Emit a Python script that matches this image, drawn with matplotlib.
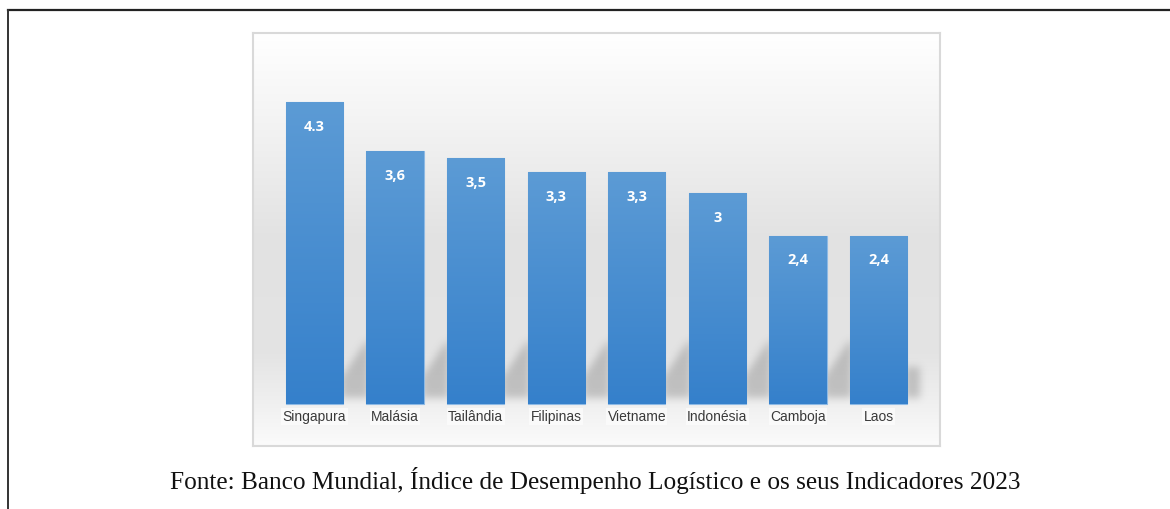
import numpy as np
import matplotlib.pyplot as plt
from matplotlib.colors import LinearSegmentedColormap
from matplotlib.lines import Line2D

countries = ["Singapura", "Malásia", "Tailândia", "Filipinas",
             "Vietname", "Indonésia", "Camboja", "Laos"]
scores = [4.3, 3.6, 3.5, 3.3, 3.3, 3.0, 2.4, 2.4]
score_labels = ["4.3", "3,6", "3,5", "3,3", "3,3", "3", "2,4", "2,4"]
caption = "Fonte: Banco Mundial, Índice de Desempenho Logístico e os seus Indicadores 2023"

W, H = 1170, 509
fig = plt.figure(figsize=(W / 100, H / 100), dpi=100)

# ── Page frame (top and left rules) ────────────────────
fig.add_artist(Line2D([8 / W, 1], [1 - 10 / H, 1 - 10 / H], color="#222222", lw=1.6))
fig.add_artist(Line2D([8 / W, 8 / W], [0, 1 - 10 / H], color="#333333", lw=1.4))

# ── Chart panel ────────────────────────────────────────
left, right, top, bottom = 253, 940, 33, 446
XLIM = (-0.763, 7.763)
YLIM = (-0.598, 5.285)
ax = fig.add_axes([left / W, 1 - bottom / H, (right - left) / W, (bottom - top) / H])
ax.set_xlim(*XLIM)
ax.set_ylim(*YLIM)
ax.set_xticks([])
ax.set_yticks([])
for s in ax.spines.values():
    s.set_color("#d9d9d9")
    s.set_linewidth(1.5)
extent = [XLIM[0], XLIM[1], YLIM[0], YLIM[1]]

# vertical background gradient
bg_cmap = LinearSegmentedColormap.from_list(
    "bg", [(0.0, "#fbfbfb"), (0.10, "#f0f0f0"), (0.22, "#e4e4e4"),
           (0.50, "#e2e2e2"), (0.80, "#f4f4f4"), (1.0, "#ffffff")])
grad = np.linspace(0, 1, 256).reshape(-1, 1)
ax.imshow(grad, cmap=bg_cmap, aspect="auto", origin="lower", extent=extent, zorder=0)

# soft floor shadow: a band behind the bars, cut diagonally in each gap
width = 0.71
ncol, nrow = right - left, bottom - top
xs = np.linspace(XLIM[0], XLIM[1], ncol)
ys = np.linspace(YLIM[0], YLIM[1], nrow)
px = (XLIM[1] - XLIM[0]) / ncol
top_edge = np.zeros(ncol)
for i in range(len(scores) - 1):
    xa, xb = i + width / 2, i + 1 - width / 2
    m = (xs >= xa - 2 * px) & (xs <= xb + 2 * px)
    t = np.clip((xs[m] - xa) / (xb - xa), 0, 1)
    top_edge[m] = 0.42 + t * 0.48
last = len(scores) - 1 + width / 2
m = (xs >= last - 2 * px) & (xs <= last + 13 * px)
top_edge[m] = 0.52
mask = ((ys[:, None] > 0.08) & (ys[:, None] < top_edge[None, :])).astype(float)

def blur(a, sigma):
    k = np.arange(-3 * sigma, 3 * sigma + 1)
    g = np.exp(-k ** 2 / (2 * sigma ** 2))
    g /= g.sum()
    a = np.apply_along_axis(lambda r: np.convolve(r, g, mode="same"), 1, a)
    return np.apply_along_axis(lambda c: np.convolve(c, g, mode="same"), 0, a)

mask = blur(mask, 4)
shadow = np.zeros((nrow, ncol, 4))
shadow[..., :3] = 0.45
shadow[..., 3] = 0.36 * mask
ax.imshow(shadow, aspect="auto", origin="lower", extent=extent, zorder=1)

# ── Bars with a blue vertical gradient ─────────────────
bar_cmap = LinearSegmentedColormap.from_list("bar", ["#3580cb", "#5c9bd5"])
bars = ax.bar(range(len(scores)), scores, width=width, color="#4a8fd2",
              edgecolor="#8db9e4", linewidth=0.8, zorder=2)
for b in bars:
    im = ax.imshow(grad, cmap=bar_cmap, aspect="auto", origin="lower",
                   extent=[b.get_x(), b.get_x() + b.get_width(), 0, b.get_height()],
                   zorder=2.5)
    im.set_clip_path(b)

for i, (v, lab) in enumerate(zip(scores, score_labels)):
    ax.text(i, v - 0.35, lab, ha="center", va="center", color="white",
            fontsize=10.5, fontweight="bold", family="Open Sans", zorder=3)
    ax.text(i, -0.18, countries[i], ha="center", va="center", color="#3a3a3a",
            fontsize=10, family="Liberation Sans", zorder=3,
            bbox=dict(boxstyle="square,pad=0.1", fc="white", ec="none", alpha=0.6))

# ── Source line ────────────────────────────────────────
fig.text(595 / W, 1 - 481 / H, caption, ha="center", va="center",
         family="Liberation Serif", fontsize=18.2, color="#111111")

fig.savefig("out.png", dpi=100)
